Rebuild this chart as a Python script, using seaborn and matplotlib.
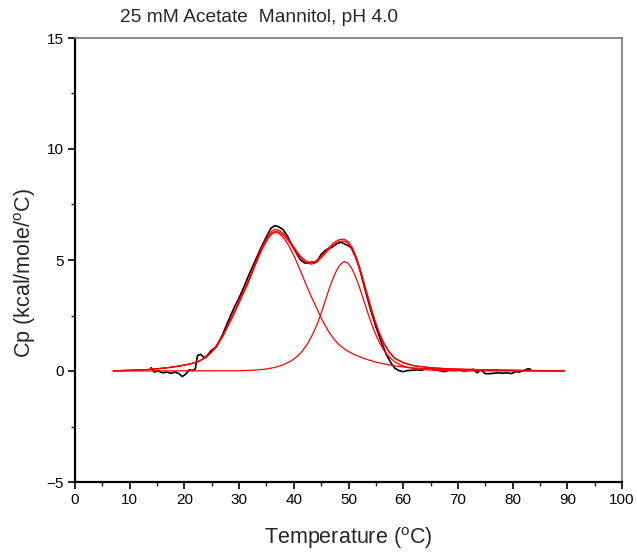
import matplotlib
matplotlib.use("Agg")
import matplotlib.pyplot as plt
from matplotlib.ticker import MultipleLocator
import seaborn as sns
import pandas as pd

# ---- data ----
data_t = [13.9, 14.5, 15.2, 16.0, 16.8, 17.5, 18.3, 19.0, 19.6, 20.2,
          20.9, 21.5, 22.0, 22.4, 23.0, 23.6, 24.2, 24.8, 25.9, 27.0,
          28.0, 29.0, 30.0, 31.0, 32.0, 33.0, 34.0, 35.0, 35.8, 36.5,
          37.2, 38.0, 38.8, 39.6, 40.5, 41.2, 42.0, 42.6, 43.2, 43.8,
          44.4, 45.0, 45.6, 46.2, 46.8, 47.4, 48.0, 48.7, 49.3, 49.9,
          50.5, 51.2, 52.0, 53.0, 54.0, 55.0, 56.0, 57.0, 57.8, 58.5,
          59.2, 60.0, 60.8, 61.6, 62.5, 63.4, 64.2, 65.0, 65.8, 66.6,
          67.5, 68.4, 69.3, 70.2, 71.1, 72.0, 72.8, 73.5, 74.2, 75.0,
          75.8, 76.6, 77.4, 78.2, 79.0, 79.8, 80.5, 81.2, 82.0, 82.8, 83.3]
data_cp = [0.15, -0.05, 0.0, -0.08, -0.05, -0.1, -0.05, -0.12, -0.25, -0.15,
           0.05, 0.02, 0.1, 0.7, 0.75, 0.6, 0.7, 0.9, 1.1, 1.65,
           2.25, 2.8, 3.3, 3.85, 4.45, 5.0, 5.55, 6.05, 6.42, 6.55,
           6.5, 6.38, 6.1, 5.7, 5.3, 5.0, 4.87, 4.85, 4.9, 4.9,
           5.0, 5.25, 5.4, 5.5, 5.55, 5.65, 5.75, 5.8, 5.72, 5.65,
           5.55, 5.2, 4.65, 3.7, 2.8, 2.0, 1.3, 0.7, 0.35, 0.12,
           0.02, -0.03, 0.02, 0.03, 0.05, 0.03, 0.12, 0.15, 0.05, 0.02,
           -0.03, 0.03, 0.02, 0.05, 0.0, 0.03, 0.08, -0.08, 0.05, -0.12,
           -0.12, -0.1, -0.08, -0.1, -0.08, -0.12, -0.03, -0.05, 0.02, 0.1, 0.08]

fit_t = [7, 10, 13, 15, 17, 19, 21, 22.5, 24, 25.5,
         27, 28.5, 30, 31.5, 33, 34.2, 35.3, 36.0, 36.6, 37.3,
         38.2, 39.2, 40.2, 41.2, 42.2, 43.2, 44.2, 45.2, 46.2, 47.2,
         48.3, 49.2, 50.0, 50.8, 51.6, 52.4, 53.2, 54.0, 54.8, 55.6,
         56.5, 57.5, 58.5, 60, 62, 65, 68, 72, 78, 84, 89.5]
fit_cp = [0.01, 0.03, 0.06, 0.1, 0.15, 0.22, 0.32, 0.42, 0.64, 1.02,
          1.6, 2.35, 3.15, 3.95, 4.9, 5.6, 6.08, 6.3, 6.38, 6.34,
          6.18, 5.88, 5.52, 5.18, 4.96, 4.88, 4.96, 5.22, 5.5, 5.76,
          5.92, 5.94, 5.82, 5.52, 5.02, 4.38, 3.68, 2.98, 2.32, 1.75,
          1.25, 0.85, 0.58, 0.38, 0.24, 0.15, 0.1, 0.07, 0.04, 0.02, 0.01]
sum_cp = [0.01, 0.03, 0.06, 0.1, 0.15, 0.22, 0.31, 0.41, 0.62, 0.98,
          1.55, 2.28, 3.07, 3.87, 4.8, 5.5, 5.98, 6.21, 6.29, 6.26,
          6.1, 5.8, 5.44, 5.1, 4.89, 4.81, 4.89, 5.14, 5.42, 5.68,
          5.84, 5.86, 5.74, 5.44, 4.92, 4.27, 3.57, 2.88, 2.23, 1.68,
          1.2, 0.82, 0.56, 0.37, 0.23, 0.15, 0.1, 0.07, 0.04, 0.02, 0.01]

peak1_t = [7, 10, 13, 15, 17, 19, 21, 22.5, 24, 25.5,
           27, 28.5, 30, 31.5, 33, 34.2, 35.3, 36.0, 36.6, 37.3,
           38.2, 39.2, 40.2, 41.2, 42.2, 43.2, 44.2, 45.2, 46.2, 47.2,
           48.3, 49.5, 51, 53, 55, 57.5, 60, 63, 66, 70,
           75, 80, 89.5]
peak1_cp = [0.01, 0.03, 0.06, 0.1, 0.15, 0.22, 0.32, 0.42, 0.62, 0.98,
            1.55, 2.3, 3.1, 3.9, 4.8, 5.5, 5.98, 6.17, 6.25, 6.2,
            5.98, 5.6, 5.1, 4.52, 3.92, 3.35, 2.82, 2.3, 1.85, 1.48,
            1.18, 0.95, 0.75, 0.55, 0.4, 0.27, 0.18, 0.12, 0.08, 0.05,
            0.03, 0.015, 0.0]

peak2_t = [7, 30, 33, 35, 36.5, 38, 39.5, 40.5, 41.5, 42.5,
           43.5, 44.3, 45.0, 45.7, 46.4, 47.1, 47.8, 48.5, 49.2, 49.9,
           50.6, 51.3, 52.0, 52.7, 53.4, 54.1, 54.8, 55.5, 56.3, 57.2,
           58.2, 59.5, 61, 63, 66, 70, 89.5]
peak2_cp = [0.0, 0.01, 0.04, 0.09, 0.16, 0.27, 0.45, 0.63, 0.88, 1.22,
            1.68, 2.12, 2.6, 3.12, 3.65, 4.12, 4.52, 4.8, 4.93, 4.86,
            4.62, 4.25, 3.78, 3.25, 2.72, 2.2, 1.75, 1.36, 1.0, 0.7,
            0.46, 0.27, 0.15, 0.07, 0.03, 0.01, 0.0]

title = "25 mM Acetate  Mannitol, pH 4.0"
xlabel = "Temperature ($\\mathregular{^o}$C)"
ylabel = "Cp (kcal/mole/$\\mathregular{^o}$C)"

# ---- plotting ----
sns.set_style("ticks")
plt.rcParams['font.family'] = ['Liberation Sans', 'DejaVu Sans']
plt.rcParams['mathtext.default'] = 'regular'

fig = plt.figure(figsize=(6.37, 5.53), dpi=100)
ax = fig.add_axes([75 / 637, 71 / 553, 547 / 637, 444 / 553])

def draw(t, y, color, lw):
    df = pd.DataFrame({"T": t, "Cp": y})
    sns.lineplot(data=df, x="T", y="Cp", ax=ax, color=color, lw=lw,
                 sort=False, estimator=None, legend=False)

draw(data_t, data_cp, "black", 1.2)
draw(peak1_t, peak1_cp, "#ff0000", 0.9)
draw(peak2_t, peak2_cp, "#ff0000", 0.9)
draw(fit_t, sum_cp, "#ff0000", 0.9)
draw(fit_t, fit_cp, "#ff0000", 0.9)

ax.set_xlim(0, 100)
ax.set_ylim(-5, 15)
ax.xaxis.set_major_locator(MultipleLocator(10))
ax.xaxis.set_minor_locator(MultipleLocator(5))
ax.yaxis.set_major_locator(MultipleLocator(5))
ax.yaxis.set_minor_locator(MultipleLocator(2.5))
ax.tick_params(which='major', direction='out', length=5, width=1.2,
               labelsize=11, colors='black', pad=3)
ax.tick_params(which='minor', direction='out', length=3, width=1.0)

for side in ['left', 'bottom']:
    ax.spines[side].set_color('black')
    ax.spines[side].set_linewidth(1.6)
for side in ['top', 'right']:
    ax.spines[side].set_visible(True)
    ax.spines[side].set_color('#777777')
    ax.spines[side].set_linewidth(1.2)

ax.set_xlabel(xlabel, fontsize=15.5, labelpad=13)
ax.set_ylabel(ylabel, fontsize=15.5)
ax.yaxis.set_label_coords(-0.068, 0.47)
fig.text(120 / 637, 1 - 18 / 553, title, fontsize=13.8, ha='left', va='center')

fig.savefig("out.png", dpi=100)
